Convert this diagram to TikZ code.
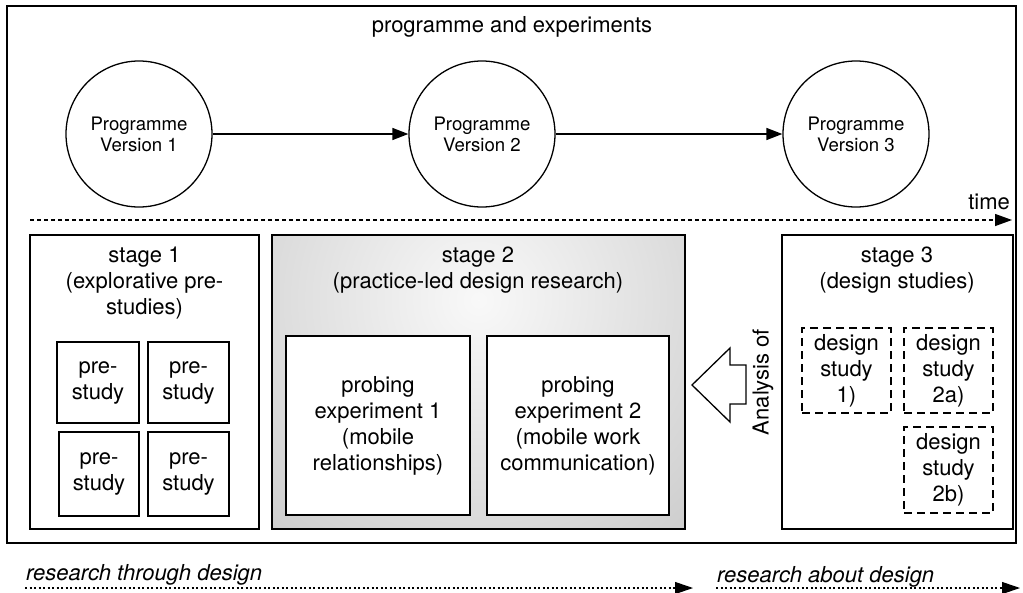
\documentclass[tikz,border=0pt]{standalone}
\usepackage{fontspec}
\setmainfont{TeX Gyre Heros}
\usetikzlibrary{arrows.meta}

\tikzset{
  txt/.style={font=\fontsize{22}{26}\selectfont, align=center, inner sep=0pt},
  ctxt/.style={font=\fontsize{18.6}{21}\selectfont, align=center, inner sep=0pt},
  itxt/.style={font=\fontsize{22}{26}\selectfont\itshape, inner sep=0pt},
  version/.style={circle, draw, line width=1.3pt, minimum size=146pt, ctxt},
  framebox/.style={draw, line width=1.5pt, anchor=north west, inner sep=0pt, outer sep=0pt},
  studybox/.style={framebox, txt},
  designbox/.style={draw, line width=1.3pt, dash pattern=on 8pt off 5pt,
    anchor=north west, inner sep=0pt, outer sep=0pt, txt},
  flow/.style={line width=1.5pt, -{Triangle[length=16pt,width=12pt]}},
  timeline/.style={line width=1.3pt, dash pattern=on 3.5pt off 3.5pt,
    -{Triangle[length=17pt,width=12pt]}},
  footline/.style={line width=1.1pt, dash pattern=on 2pt off 2.5pt,
    -{Triangle[length=18pt,width=12pt]}},
}

\begin{document}
\begin{tikzpicture}[x=1pt, y=-1pt]
\useasboundingbox (0,0) rectangle (1023,592);

% outer frame
\node[framebox, minimum width=1009pt, minimum height=537pt, line width=1.8pt] (outer) at (7,6) {};
\node[txt] (title) at (512,27) {programme and experiments};

% programme versions
\node[version] (v1) at (139,134) {Programme\\Version 1};
\node[version] (v2) at (482,134) {Programme\\Version 2};
\node[version] (v3) at (856,134) {Programme\\Version 3};
\draw[flow] (v1) -- (v2);
\draw[flow] (v2) -- (v3);

% time axis
\coordinate (t0) at (30,220);
\coordinate (t1) at (1012,220);
\draw[timeline] (t0) -- (t1);
\node[txt, anchor=east] (time) at (1010,202) {time};

% stage 1
\node[framebox, minimum width=229pt, minimum height=294pt] (s1) at (30,235) {};
\node[txt] (s1t) at (144.5,283) {stage 1\\(explorative pre-\\studies)};
\node[studybox, minimum width=82pt, minimum height=81pt] (p1) at (57,342) {pre-\\study};
\node[studybox, minimum width=81pt, minimum height=81pt] (p2) at (148,342) {pre-\\study};
\node[studybox, minimum width=80pt, minimum height=84pt] (p3) at (59,432) {pre-\\study};
\node[studybox, minimum width=81pt, minimum height=84pt] (p4) at (148,432) {pre-\\study};

% stage 2 with radial grey shading, brightest just under its heading
\node[framebox, minimum width=413pt, minimum height=294pt,
  path picture={\shade[inner color=gray!5, outer color=gray!66]
    ([yshift=82pt]path picture bounding box.center) circle (560pt);}] (s2) at (272,235) {};
\node[txt] (s2t) at (478,270) {stage 2\\(practice-led design research)};
\node[studybox, fill=white, minimum width=184pt, minimum height=179pt] (e1) at (286,336)
  {probing\\experiment 1\\(mobile\\relationships)};
\node[studybox, fill=white, minimum width=182pt, minimum height=179pt] (e2) at (487,336)
  {probing\\experiment 2\\(mobile work\\communication)};

% stage 3
\node[framebox, minimum width=231pt, minimum height=294pt] (s3) at (782,235) {};
\node[txt] (s3t) at (897,270) {stage 3\\(design studies)};
\node[designbox, minimum width=89pt, minimum height=85pt] (d1) at (802,328) {design\\study\\1)};
\node[designbox, minimum width=89pt, minimum height=85pt] (d2a) at (904,328) {design\\study\\2a)};
\node[designbox, minimum width=89pt, minimum height=86pt] (d2b) at (904,427) {design\\study\\2b)};

% analysis arrow
\draw[line width=1.3pt, line join=miter, fill=white]
  (692,385) -- (730,348) -- (730,365) -- (746,365) -- (746,404)
  -- (730,404) -- (730,422) -- cycle;
\node[txt, rotate=90] (analysis) at (763,382) {Analysis of};

% research through / about design
\node[itxt, anchor=base west] (rtd) at (26,580) {research through design};
\coordinate (r0) at (25,588);
\coordinate (r1) at (693,588);
\draw[footline] (r0) -- (r1);
\node[itxt, anchor=base west] (rad) at (717,582) {research about design};
\coordinate (a0) at (716,588);
\coordinate (a1) at (1020,588);
\draw[footline] (a0) -- (a1);
\end{tikzpicture}
\end{document}
